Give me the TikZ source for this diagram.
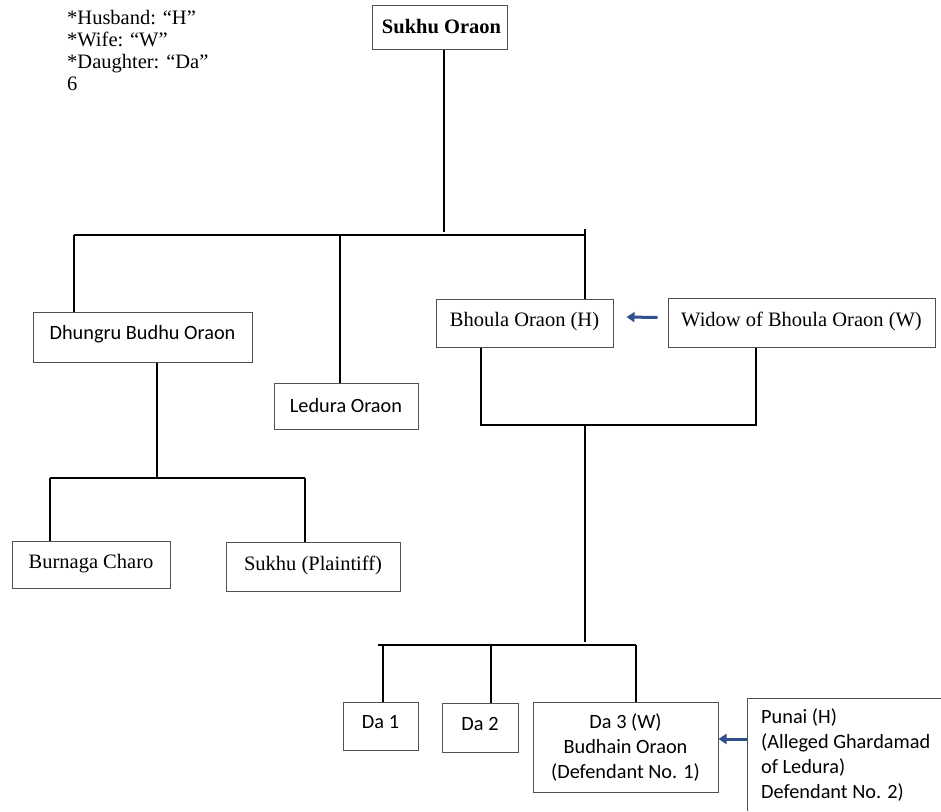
\documentclass[tikz,border=0pt]{standalone}
\usepackage{fontspec}
\setmainfont{Liberation Serif}
\newfontfamily\calfont{Carlito}
\usetikzlibrary{arrows.meta}
\definecolor{boxgray}{RGB}{80,80,80}
\definecolor{arrowblue}{RGB}{47,82,143}
\begin{document}
\begin{tikzpicture}[x=1pt,y=-1pt,
  box/.style={draw=boxgray, line width=1pt, inner sep=0pt},
  serif/.style={font=\fontsize{20.5}{22}\selectfont},
  sans/.style={font=\calfont\fontsize{20.3}{25}\selectfont},
  conn/.style={draw=black, line width=2pt},
  barrow/.style={draw=arrowblue, line width=3pt, -{Triangle[length=8pt,width=10pt]}}]
\fill[white] (0,0) rectangle (941,811);
\useasboundingbox (0,0) rectangle (941,811);

% legend
\node[serif, anchor=north west, align=left, inner sep=0pt] (legend) at (67,10)
  {*Husband: “H”\\*Wife: “W”\\*Daughter: “Da”\\6};

% boxes
\node[box, font=\bfseries\fontsize{20.5}{22}\selectfont, minimum width=135, minimum height=44] (sukhu) at (439.5,27) {\hspace*{4pt}Sukhu Oraon};
\node[box, sans, minimum width=219, minimum height=50, text height=14, text depth=9] (dhungru) at (142.5,337) {Dhungru Budhu Oraon};
\node[box, sans, minimum width=144, minimum height=46] (ledura) at (346,406) {Ledura Oraon};
\node[box, serif, minimum width=177, minimum height=48, text height=14, text depth=7] (bhoula) at (524.5,323) {Bhoula Oraon (H)};
\node[box, serif, minimum width=267, minimum height=49, text height=14, text depth=7] (widow) at (801.5,322.5) {Widow of Bhoula Oraon (W)};
\node[box, serif, minimum width=158, minimum height=47, text height=14, text depth=7] (burnaga) at (91,564.5) {Burnaga Charo};
\node[box, serif, minimum width=174, minimum height=49, text height=14, text depth=7] (plaintiff) at (313,566.5) {Sukhu (Plaintiff)};
\node[box, sans, minimum width=75, minimum height=48, text height=14, text depth=9] (da1) at (380.5,726) {Da 1};
\node[box, sans, minimum width=76, minimum height=49, text height=14, text depth=9] (da2) at (480,727.5) {Da 2};
\node[box, sans, minimum width=185, minimum height=90, align=center] (da3) at (625.5,747)
  {Da 3 (W)\\Budhain Oraon\\(Defendant No. 1)};
% Punai box runs off the right and bottom edges of the page
\node[sans, anchor=north west, align=flush left, text width=215, inner xsep=14pt, inner ysep=10pt] (punai) at (747,698)
  {Punai (H)\\(Alleged Ghardamad\\of Ledura)\\Defendant No. 2)};
\draw[boxgray, line width=1pt] (punai.north east) -- (punai.north west) -- (punai.south west);

% junction coordinates
\coordinate (top) at (444,232);
\coordinate (b1) at (74,235);
\coordinate (b2) at (340,235);
\coordinate (b3) at (585,229);
\coordinate (b3b) at (585,235);
\coordinate (d1) at (50,478);
\coordinate (d2) at (305,478);
\coordinate (dj) at (157,478);
\coordinate (m1) at (481,425);
\coordinate (m2) at (756,425);
\coordinate (mj) at (585,425);
\coordinate (k0) at (378,645);
\coordinate (k1) at (383,645);
\coordinate (k2) at (491,645);
\coordinate (k3) at (636,645);
\coordinate (kj) at (585,642);

% connectors
\draw[conn] (sukhu.south -| top) -- (top);
\draw[conn] (b1) -- (b3b);
\draw[conn] (b1) -- (b1 |- dhungru.north);
\draw[conn] (b2) -- (b2 |- ledura.north);
\draw[conn] (b3) -- (b3 |- bhoula.north);

\draw[conn] (dhungru.south -| dj) -- (dj);
\draw[conn] (d1) -- (d2);
\draw[conn] (d1) -- (d1 |- burnaga.north);
\draw[conn] (d2) -- (d2 |- plaintiff.north);

\draw[conn] (bhoula.south -| m1) -- (m1) -- (m2) -- (widow.south -| m2);
\draw[conn] (mj) -- (kj);
\draw[conn] (k0) -- (k3);
\draw[conn] (k1) -- (k1 |- da1.north);
\draw[conn] (k2) -- (k2 |- da2.north);
\draw[conn] (k3) -- (k3 |- da3.north);

% arrows
\draw[barrow] ([xshift=-10pt,yshift=5pt]widow.west) -- ([xshift=13pt,yshift=6pt]bhoula.east);
\draw[barrow] (punai.west |- 0,739) -- (da3.east |- 0,739);
\end{tikzpicture}
\end{document}
